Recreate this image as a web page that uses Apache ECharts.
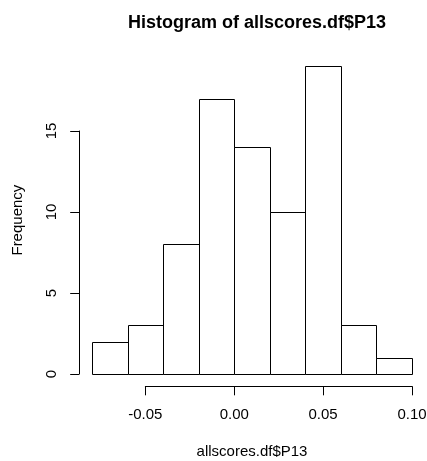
<!DOCTYPE html>
<html><head><meta charset="utf-8">
<script src="https://cdn.jsdelivr.net/npm/echarts@6/dist/echarts.min.js"></script>
<style>html,body{margin:0;padding:0;background:#fff}#c{width:427px;height:461px}</style>
</head><body><div id="c"></div>
<script>
const breaks = [-0.08, -0.06, -0.04, -0.02, 0.00, 0.02, 0.04, 0.06, 0.08, 0.10];
const counts = [2, 3, 8, 17, 14, 10, 19, 3, 1];
const xTicks = [-0.05, 0.00, 0.05, 0.10];
const yTicks = [0, 5, 10, 15];
const titleText = 'Histogram of allscores.df$P13';
const xTitle = 'allscores.df$P13';
const yTitle = 'Frequency';

const bins = counts.map((c, i) => [breaks[i], breaks[i + 1], c]);
const xr = breaks[breaks.length - 1] - breaks[0];
const xmin = breaks[0] - 0.04 * xr, xmax = breaks[breaks.length - 1] + 0.04 * xr;
const ymaxData = Math.max(...counts);
const ymin = -0.04 * ymaxData, ymax = ymaxData * 1.04;

const L = 79.2, R = 424.8, T = 53.9, B = 386.3;
const pxX = v => L + (v - xmin) / (xmax - xmin) * (R - L);
const pxY = v => B - (v - ymin) / (ymax - ymin) * (B - T);

const font = 'Liberation Sans, Arial, Helvetica, sans-serif';
const gridBase = { outerBoundsMode: 'none', containLabel: false };
const chart = echarts.init(document.getElementById('c'));
chart.setOption({
  animation: false,
  backgroundColor: '#fff',
  title: {
    text: titleText, left: (L + R) / 2, top: 9, textAlign: 'center',
    textStyle: { fontFamily: font, fontWeight: 'bold', fontSize: 18, color: '#000' }
  },
  grid: [
    Object.assign({ left: L, top: T, width: R - L, height: B - T }, gridBase),
    Object.assign({ left: pxX(xTicks[0]), top: T, width: pxX(xTicks[xTicks.length - 1]) - pxX(xTicks[0]), height: B - T }, gridBase),
    Object.assign({ left: L, top: pxY(yTicks[yTicks.length - 1]), width: R - L, height: pxY(yTicks[0]) - pxY(yTicks[yTicks.length - 1]) }, gridBase)
  ],
  xAxis: [
    { gridIndex: 0, type: 'value', min: xmin, max: xmax, axisLine: { show: false }, axisTick: { show: false },
      axisLabel: { show: false }, splitLine: { show: false },
      name: xTitle, nameLocation: 'middle', nameGap: 58,
      nameTextStyle: { fontFamily: font, fontSize: 15, color: '#000' } },
    { gridIndex: 1, type: 'value', min: xTicks[0], max: xTicks[xTicks.length - 1], interval: 0.05,
      axisLine: { show: true, onZero: false, lineStyle: { color: '#000', width: 1 } },
      axisTick: { show: true, inside: false, length: 9, lineStyle: { color: '#000' } },
      axisLabel: { show: true, margin: 21, color: '#000', fontFamily: font, fontSize: 15,
        formatter: v => v.toFixed(2), showMinLabel: true, showMaxLabel: true },
      splitLine: { show: false } },
    { gridIndex: 2, type: 'value', min: xmin, max: xmax, show: false }
  ],
  yAxis: [
    { gridIndex: 0, type: 'value', min: ymin, max: ymax, axisLine: { show: false }, axisTick: { show: false },
      axisLabel: { show: false }, splitLine: { show: false },
      name: yTitle, nameLocation: 'middle', nameGap: 54,
      nameTextStyle: { fontFamily: font, fontSize: 15, color: '#000' } },
    { gridIndex: 1, type: 'value', show: false, min: 0, max: 1 },
    { gridIndex: 2, type: 'value', min: yTicks[0], max: yTicks[yTicks.length - 1], interval: 5,
      axisLine: { show: true, onZero: false, lineStyle: { color: '#000', width: 1 } },
      axisTick: { show: true, inside: false, length: 9, lineStyle: { color: '#000' } },
      axisLabel: { show: true, rotate: 90, margin: 20, color: '#000', fontFamily: font, fontSize: 15 },
      splitLine: { show: false } }
  ],
  series: [{
    type: 'custom', xAxisIndex: 0, yAxisIndex: 0,
    data: bins,
    renderItem: (params, api) => {
      const p0 = api.coord([api.value(0), 0]);
      const p1 = api.coord([api.value(1), api.value(2)]);
      return {
        type: 'rect',
        shape: { x: Math.round(p0[0]) + 0.5, y: Math.round(p1[1]) + 0.5, width: Math.round(p1[0]) - Math.round(p0[0]), height: Math.round(p0[1]) - Math.round(p1[1]) },
        style: { fill: '#fff', stroke: '#000', lineWidth: 1 }
      };
    }
  }]
});
</script></body></html>
